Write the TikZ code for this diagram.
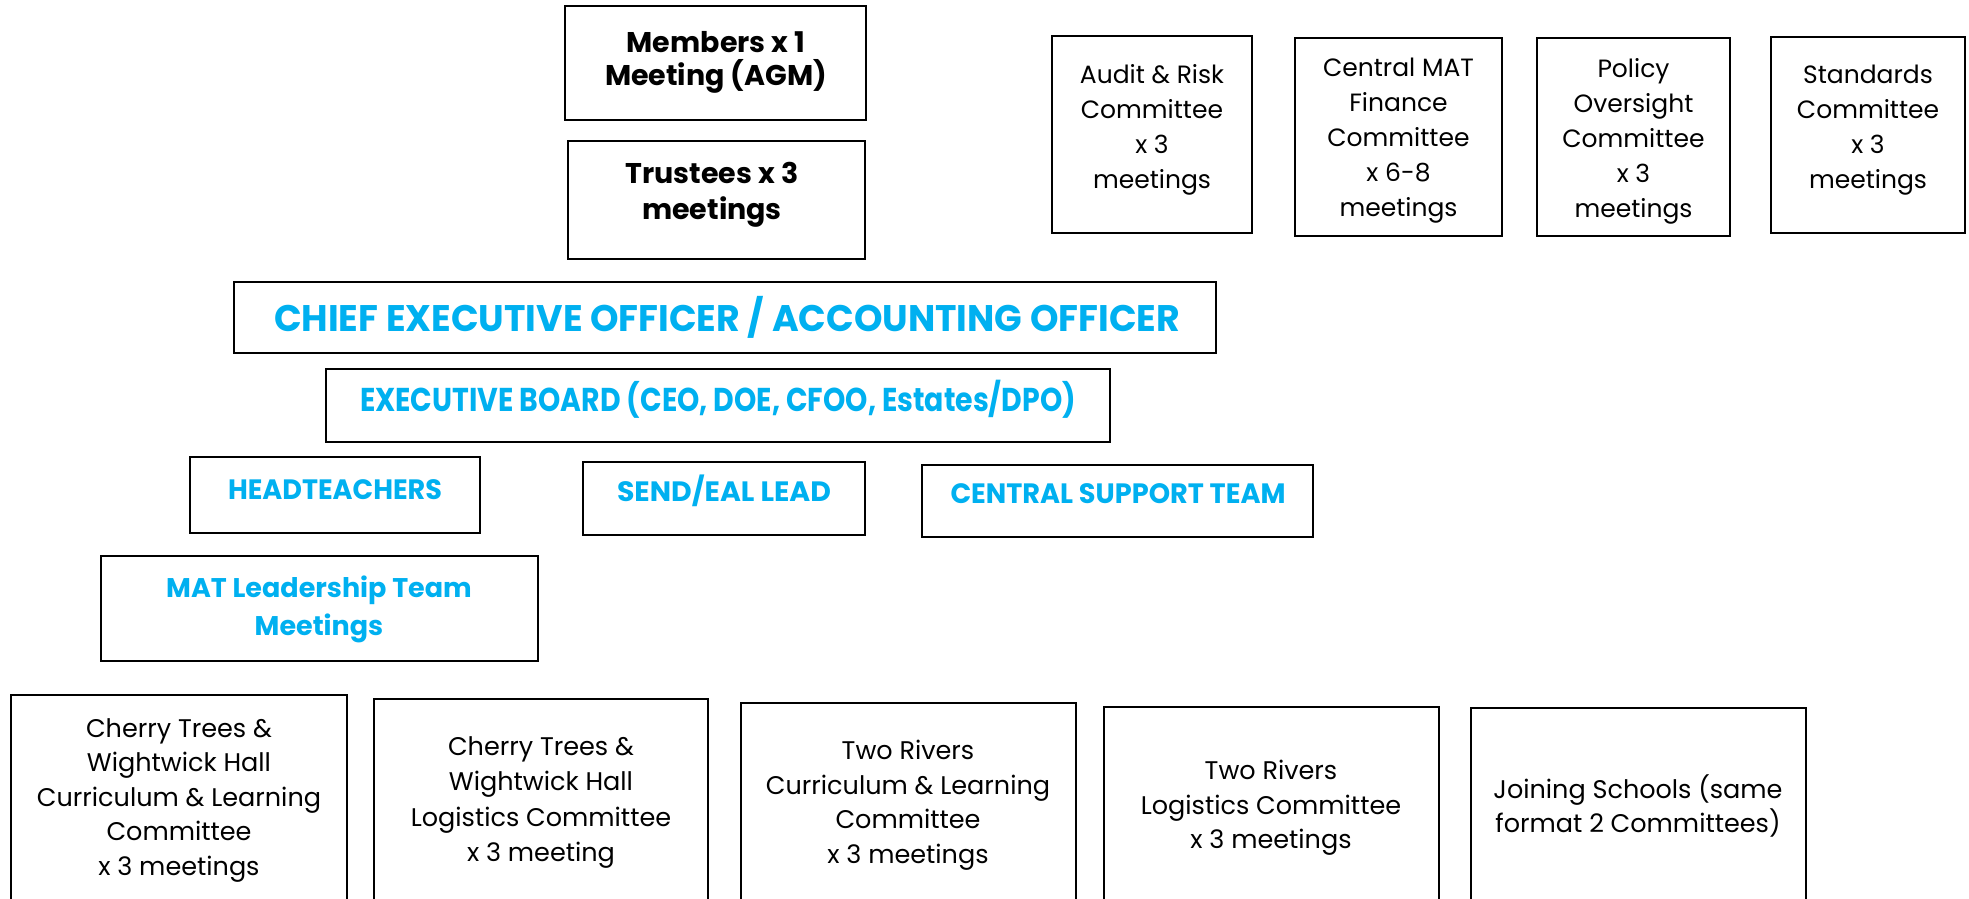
\documentclass[tikz,border=0pt]{standalone}
\usepackage{fontspec}
\setmainfont{Poppins}
\definecolor{hblue}{HTML}{00B0F0}
\newcommand\fitw[2]{\setbox0=\hbox{#2}\pgfmathsetmacro\myfac{#1/\the\wd0}\scalebox{\myfac}[1]{\box0}}
\tikzset{
  box/.style={draw=black, line width=2.5pt, inner sep=0pt, fill=white},
  btxt/.style={font=\bfseries\fontsize{28.5}{33}\selectfont, align=center, inner sep=0pt},
  ctxt/.style={font=\fontsize{25}{35}\selectfont, align=center, inner sep=0pt},
  ltxt/.style={font=\fontsize{25.5}{34.5}\selectfont, align=center, inner sep=0pt},
  htxt/.style={font=\bfseries\fontsize{28}{34}\selectfont, text=hblue, align=center, inner sep=0pt},
}
\begin{document}
\begin{tikzpicture}[x=1pt,y=-1pt]
\useasboundingbox (0,0) rectangle (1969,898);
\clip (0,0) rectangle (1969,898);
\fill[white] (0,0) rectangle (1969,898);
% top governance
\node[box, minimum width=301pt, minimum height=114pt] (members) at (715.5,63) {};
\node[btxt] (memberst) at (716,62) {Members x 1\\Meeting (AGM)};
\node[box, minimum width=297pt, minimum height=118pt] (trustees) at (716.5,200) {};
\node[btxt, font=\bfseries\fontsize{28.5}{36}\selectfont] (trusteest) at (712,195) {Trustees x 3\\meetings};
% committees
\node[box, minimum width=200pt, minimum height=197pt] (audit) at (1152,134.5) {};
\node[ctxt] (auditt) at (1152,130) {Audit \& Risk\\Committee\\x 3\\meetings};
\node[box, minimum width=207pt, minimum height=198pt] (finance) at (1398.5,137) {};
\node[ctxt] (financet) at (1398.5,141) {Central MAT\\Finance\\Committee\\x 6-8\\meetings};
\node[box, minimum width=193pt, minimum height=198pt] (policy) at (1633.5,137) {};
\node[ctxt] (policyt) at (1633.5,141) {Policy\\Oversight\\Committee\\x 3\\meetings};
\node[box, minimum width=194pt, minimum height=196pt] (standards) at (1868,135) {};
\node[ctxt] (standardst) at (1868,130) {Standards\\Committee\\x 3\\meetings};
% executive
\node[box, minimum width=982pt, minimum height=71pt] (ceo) at (725,317.5) {};
\node[htxt, font=\bfseries\fontsize{37}{40}\selectfont] (ceot) at (727,317) {\fitw{906}{CHIEF EXECUTIVE OFFICER / ACCOUNTING OFFICER}};
\node[box, minimum width=784pt, minimum height=73pt] (eb) at (718,405.5) {};
\node[htxt, font=\bfseries\fontsize{33}{36}\selectfont] (ebt) at (718,399) {\fitw{716}{EXECUTIVE BOARD (CEO, DOE, CFOO, Estates/DPO)}};
\node[box, minimum width=290pt, minimum height=76pt] (head) at (335,495) {};
\node[htxt] (headt) at (335,490) {\fitw{214}{HEADTEACHERS}};
\node[box, minimum width=282pt, minimum height=73pt] (send) at (724,498.5) {};
\node[htxt] (sendt) at (724,491) {\fitw{214}{SEND/EAL LEAD}};
\node[box, minimum width=391pt, minimum height=72pt] (cst) at (1117.5,501) {};
\node[htxt] (cstt) at (1118,494) {\fitw{335}{CENTRAL SUPPORT TEAM}};
\node[box, minimum width=437pt, minimum height=105pt] (mat) at (319.5,608.5) {};
\node[htxt, font=\bfseries\fontsize{27}{38}\selectfont] (matt) at (319,609) {MAT Leadership Team\\Meetings};
% local committees
\node[box, minimum width=336pt, minimum height=215pt] (b1) at (179,802.5) {};
\node[ltxt] (b1t) at (179,800) {Cherry Trees \&\\Wightwick Hall\\Curriculum \& Learning\\Committee\\x 3 meetings};
\node[box, minimum width=334pt, minimum height=211pt] (b2) at (541,804.5) {};
\node[ltxt, font=\fontsize{25.5}{35.5}\selectfont] (b2t) at (541,802.5) {Cherry Trees \&\\Wightwick Hall\\Logistics Committee\\x 3 meeting};
\node[box, minimum width=335pt, minimum height=207pt] (b3) at (908.5,806.5) {};
\node[ltxt] (b3t) at (908,805) {Two Rivers\\Curriculum \& Learning\\Committee\\x 3 meetings};
\node[box, minimum width=335pt, minimum height=203pt] (b4) at (1271.5,808.5) {};
\node[ltxt] (b4t) at (1271,808) {Two Rivers\\Logistics Committee\\x 3 meetings};
\node[box, minimum width=335pt, minimum height=202pt] (b5) at (1638.5,809) {};
\node[ltxt] (b5t) at (1638,806) {Joining Schools (same\\format 2 Committees)};
\end{tikzpicture}
\end{document}
